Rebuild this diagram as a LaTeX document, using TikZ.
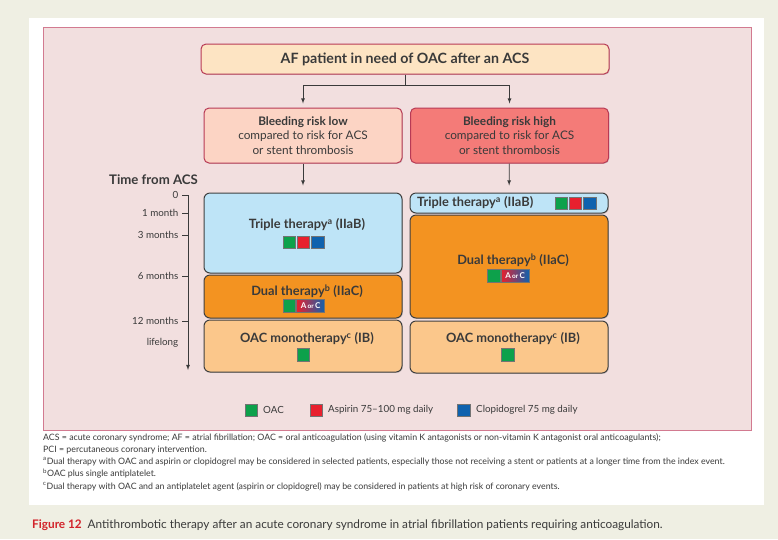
\documentclass[tikz,border=0pt]{standalone}
\usepackage{fontspec}
\setmainfont{Lato}
\usepackage{xcolor}
\usetikzlibrary{shapes}
\usetikzlibrary{positioning}
\usetikzlibrary{arrows}
\usetikzlibrary{shadows}

\definecolor{pagebeige}{HTML}{EFEFE3}
\definecolor{panelpink}{HTML}{F2DFDF}
\definecolor{panelline}{HTML}{D27A90}
\definecolor{boxline}{HTML}{B83A55}
\definecolor{peach}{HTML}{FDE4C3}
\definecolor{lowfill}{HTML}{FCD4C4}
\definecolor{highfill}{HTML}{F47B78}
\definecolor{triplefill}{HTML}{BEE4F7}
\definecolor{dualfill}{HTML}{F39321}
\definecolor{monofill}{HTML}{FBC78B}
\definecolor{oacgreen}{HTML}{0DA14B}
\definecolor{aspred}{HTML}{E8202E}
\definecolor{clopblue}{HTML}{0F62AE}
\definecolor{txtgray}{HTML}{3A3A3A}
\definecolor{figred}{HTML}{D2232A}

\tikzset{
  softshadow/.style={drop shadow={shadow xshift=0.8pt, shadow yshift=-0.8pt, opacity=0.3}},
  riskbox/.style={draw=boxline, line width=1pt, rounded corners=5pt, minimum width=198pt, minimum height=55pt, align=center, text=txtgray, font=\fontsize{11.8}{14.8}\selectfont, softshadow},
  therapybox/.style={draw=black!75, line width=1pt, rounded corners=6pt, minimum width=198pt, inner sep=0pt, softshadow},
  therapytxt/.style={text=txtgray, font=\fontsize{12.8}{14}\selectfont\bfseries, inner sep=0pt},
  drugsq/.style={draw=black!55, line width=0.4pt, minimum size=12.5pt, inner sep=0pt},
  ticktxt/.style={anchor=east, text=txtgray, font=\fontsize{9.8}{11}\selectfont, inner sep=0pt},
  legendtxt/.style={anchor=west, text=txtgray, font=\fontsize{9.8}{11}\selectfont, inner sep=0pt}
}

\begin{document}
\begin{tikzpicture}[x=1pt, y=-1pt, >=latex]
            \fill[pagebeige] (0,0) rectangle (778,539);
            \useasboundingbox (0,0) rectangle (778,539);
            \fill[white] (29,18) rectangle (764,505);
            \draw[panelline, fill=panelpink, line width=0.8pt] (43,27) rectangle (751,430);

            % decision part
            \node[riskbox, fill=peach, minimum width=408pt, minimum height=30pt, font=\fontsize{14.2}{16}\selectfont\bfseries] (af_patient) at (405,59) {AF patient in need of OAC after an ACS};
            \node[riskbox, fill=lowfill] (bleed_low) at (303,135.5) {\textbf{Bleeding risk low}\\ compared to risk for ACS\\ or stent thrombosis};
            \node[riskbox, fill=highfill] (bleed_high) at (509.5,135.5) {\textbf{Bleeding risk high}\\ compared to risk for ACS\\ or stent thrombosis};
            \coordinate (split) at (405,85);
            \draw[txtgray, line width=0.8pt] (af_patient) -- (split);
            \draw[->, txtgray, line width=0.8pt, shorten >=4pt] (split) -| (bleed_low.north);
            \draw[->, txtgray, line width=0.8pt, shorten >=4pt] (split) -| (bleed_high.north);

            % time axis
            \node[text=txtgray, font=\fontsize{13.2}{14}\selectfont\bfseries] (time_title) at (153.5,180) {Time from ACS};
            \coordinate (axis_top) at (188,195);
            \coordinate (axis_end) at (188,370);
            \draw[->, txtgray, line width=0.8pt] (axis_top) -- (axis_end);
            \foreach \y/\t in {195/0, 213/1 month, 235/3 months, 276/6 months, 321/12 months} {
                \draw[txtgray, line width=0.8pt] (182,\y) -- (188,\y);
                \node[ticktxt] at (178.5,\y) {\t};
            }
            \node[ticktxt] (lifelong) at (178.5,343) {lifelong};

            % low bleeding risk column
            \node[therapybox, fill=triplefill, minimum height=80pt] (triple_low) at (303,233) {};
            \node[therapybox, fill=dualfill, minimum height=43pt] (dual_low) at (303,296.5) {};
            \node[therapybox, fill=monofill, minimum height=52pt] (mono_low) at (303,346) {};
            \node[therapytxt] (triple_low_txt) at (307,225) {Triple therapy\textsuperscript{a} (IIaB)};
            \node[drugsq, fill=oacgreen] (triple_low_o) at (289,242) {};
            \node[drugsq, fill=aspred, right=1.5pt of triple_low_o] (triple_low_a) {};
            \node[drugsq, fill=clopblue, right=1.5pt of triple_low_a] (triple_low_c) {};
            \node[therapytxt] (dual_low_txt) at (307,291) {Dual therapy\textsuperscript{b} (IIaC)};
            \node[drugsq, fill=oacgreen] (dual_low_o) at (289,305.5) {};
            \node[drugsq, minimum width=28pt, left color=aspred, right color=clopblue, right=1pt of dual_low_o, text=white, font=\fontsize{8}{8}\selectfont\bfseries] (dual_low_ac) {A\,{\fontsize{6.5}{6.5}\selectfont or}\,C};
            \node[therapytxt] (mono_low_txt) at (307,339) {OAC monotherapy\textsuperscript{c} (IB)};
            \node[drugsq, fill=oacgreen] (mono_low_o) at (303,354.5) {};
            \draw[->, txtgray, line width=0.8pt, shorten >=7pt] (bleed_low) -- (triple_low);

            % high bleeding risk column
            \node[therapybox, fill=triplefill, minimum height=20pt] (triple_high) at (509,203) {};
            \node[therapybox, fill=dualfill, minimum height=103pt] (dual_high) at (509,266.5) {};
            \node[therapybox, fill=monofill, minimum height=52pt] (mono_high) at (509,347) {};
            \node[therapytxt, anchor=west] (triple_high_txt) at (417,203) {Triple therapy\textsuperscript{a} (IIaB)};
            \node[drugsq, fill=oacgreen] (triple_high_o) at (561,203) {};
            \node[drugsq, fill=aspred, right=1.5pt of triple_high_o] (triple_high_a) {};
            \node[drugsq, fill=clopblue, right=1.5pt of triple_high_a] (triple_high_c) {};
            \node[therapytxt] (dual_high_txt) at (513,260) {Dual therapy\textsuperscript{b} (IIaC)};
            \node[drugsq, fill=oacgreen] (dual_high_o) at (493.5,275.5) {};
            \node[drugsq, minimum width=28pt, left color=aspred, right color=clopblue, right=1pt of dual_high_o, text=white, font=\fontsize{8}{8}\selectfont\bfseries] (dual_high_ac) {A\,{\fontsize{6.5}{6.5}\selectfont or}\,C};
            \node[therapytxt] (mono_high_txt) at (513,339) {OAC monotherapy\textsuperscript{c} (IB)};
            \node[drugsq, fill=oacgreen] (mono_high_o) at (507.5,354.5) {};
            \draw[->, txtgray, line width=0.8pt, shorten >=7pt] (bleed_high) -- (triple_high);

            % legend
            \node[drugsq, fill=oacgreen] (key_oac) at (251,410) {};
            \node[legendtxt] (key_oac_txt) at (263,410) {OAC};
            \node[drugsq, fill=aspred] (key_asp) at (316,410) {};
            \node[legendtxt] (key_asp_txt) at (328,410) {Aspirin 75–100 mg daily};
            \node[drugsq, fill=clopblue] (key_clop) at (463.5,410) {};
            \node[legendtxt] (key_clop_txt) at (476,410) {Clopidogrel 75 mg daily};

            % footnotes and caption
            \node[anchor=north west, align=left, inner sep=0pt, text=txtgray, font=\fontsize{8.8}{12.3}\selectfont] (notes) at (43,433) {ACS = acute coronary syndrome; AF = atrial fibrillation; OAC = oral anticoagulation (using vitamin K antagonists or non-vitamin K antagonist oral anticoagulants);\\ PCI = percutaneous coronary intervention.\\ \textsuperscript{a}Dual therapy with OAC and aspirin or clopidogrel may be considered in selected patients, especially those not receiving a stent or patients at a longer time from the index event.\\ \textsuperscript{b}OAC plus single antiplatelet.\\ \textsuperscript{c}Dual therapy with OAC and an antiplatelet agent (aspirin or clopidogrel) may be considered in patients at high risk of coronary events.};
            \node[anchor=west, inner sep=0pt, text=txtgray, font=\fontsize{11.8}{13}\selectfont] (caption) at (32,525) {\textcolor{figred}{\bfseries Figure 12}\enspace Antithrombotic therapy after an acute coronary syndrome in atrial fibrillation patients requiring anticoagulation.};
        \end{tikzpicture}
\end{document}
